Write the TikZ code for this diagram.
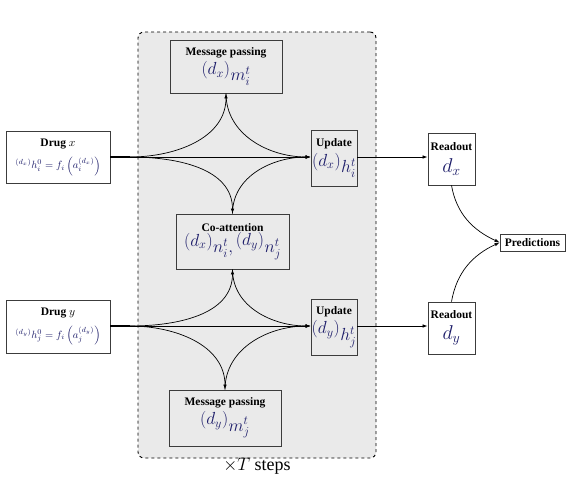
\RequirePackage{fix-cm}
\documentclass[tikz,border=0pt]{standalone}
\usepackage{amsmath,amssymb}
\usepackage{fontspec}
\setmainfont{Liberation Serif}
\usepackage{tikz}
\usetikzlibrary{arrows.meta}
\definecolor{mathblue}{RGB}{28,28,105}
\definecolor{boxline}{RGB}{60,60,60}
\definecolor{loopfill}{RGB}{234,234,234}
\tikzset{>={Latex[length=5pt,width=3.5pt]}}
\tikzset{
  stage/.style={draw=boxline, line width=0.8pt, align=center, inner sep=0.5pt},
  outbox/.style={stage, fill=white}
}
\newcommand{\hd}{\fontsize{11.5}{13}\selectfont\bfseries}
\newcommand{\bigmath}{\color{mathblue}\fontsize{17.5}{20}\selectfont}
\newcommand{\lsup}[1]{{}^{\textstyle #1}}

\begin{document}
\begin{tikzpicture}[x=1pt, y=-1pt]
\useasboundingbox (0,0) rectangle (576,488);
% loop over T steps
\node[draw, dashed, line width=0.9pt, rounded corners=6pt, fill=loopfill,
      minimum width=238pt, minimum height=426pt,
      label={[font=\fontsize{18}{20}\selectfont, yshift=4pt]below:{$\times T$ steps}}] (loop) at (257,245) {};
% inputs
\node[outbox, minimum width=104pt, minimum height=52pt] (drugx) at (58,157)
  {{\hd Drug $x$}\\[7pt]
   \color{mathblue}\fontsize{10.5}{12}\selectfont${}^{(d_x)}h_i^0 = f_i\left(a_i^{(d_x)}\right)$};
\node[outbox, minimum width=104pt, minimum height=53pt] (drugy) at (58,326.5)
  {{\hd Drug $y$}\\[7pt]
   \color{mathblue}\fontsize{10.5}{12}\selectfont${}^{(d_y)}h_j^0 = f_i\left(a_j^{(d_y)}\right)$};
% inside the loop
\node[stage, minimum width=112pt, minimum height=53pt] (mpx) at (226,66.5)
  {{\hd Message passing}\\[2pt]
   \bigmath$\lsup{(d_x)}m_i^t$};
\node[stage, minimum width=113pt, minimum height=55pt] (coatt) at (232.5,241.5)
  {{\hd Co-attention}\\[0pt]
   \bigmath$\lsup{(d_x)}n_i^t, \lsup{(d_y)}n_j^t$};
\node[stage, minimum width=112pt, minimum height=56pt] (mpy) at (225,418)
  {{\hd Message passing}\\[2pt]
   \bigmath$\lsup{(d_y)}m_j^t$};
\node[stage, minimum width=46pt, minimum height=56pt] (updx) at (334,158)
  {{\hd Update}\\[3pt]
   \bigmath$\lsup{(d_x)}h_i^t$};
\node[stage, minimum width=46pt, minimum height=56pt] (updy) at (334,327)
  {{\hd Update}\\[3pt]
   \bigmath$\lsup{(d_y)}h_j^t$};
% readout
\node[outbox, minimum width=47pt, minimum height=52pt] (rdx) at (451.5,159)
  {{\hd Readout}\\[6pt]
   \color{mathblue}\fontsize{20}{22}\selectfont$d_x$};
\node[outbox, minimum width=47pt, minimum height=52pt] (rdy) at (451.5,328)
  {{\hd Readout}\\[6pt]
   \color{mathblue}\fontsize{20}{22}\selectfont$d_y$};
\node[outbox, minimum width=65pt, minimum height=17pt, font=\hd] (pred) at (532.5,242.5) {Predictions};
% split points
\coordinate (sx) at (130,157);
\coordinate (sy) at (130,326);
\draw[line width=1.4pt] (drugx.east |- sx) -- (sx);
\draw[line width=1.4pt] (drugy.east |- sy) -- (sy);
\path[->, line width=0.7pt]
(sx)
edge (updx.west |- sx)
edge[out=0, in=-90] (mpx.south)
edge[out=0, in=90] (coatt.north)
(sy)
edge (updy.west |- sy)
edge[out=0, in=-90] (coatt.south)
edge[out=0, in=90] (mpy.north)
(mpx.south)
edge[out=-90, in=180] (updx.west |- sx)
(coatt.north)
edge[out=90, in=180] (updx.west |- sx)
(coatt.south)
edge[out=-90, in=180] (updy.west |- sy)
(mpy.north)
edge[out=90, in=180] (updy.west |- sy)
(updx.east |- sx)
edge (rdx.west |- sx)
(updy.east |- sy)
edge (rdy.west |- sy)
(rdx.south)
edge[out=-80, in=155] (pred.west)
(rdy.north)
edge[out=80, in=205] (pred.west)
;
\end{tikzpicture}
\end{document}
